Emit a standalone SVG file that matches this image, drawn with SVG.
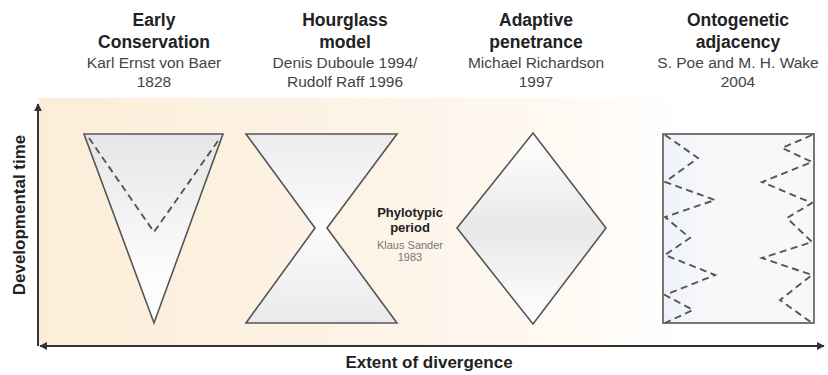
<svg xmlns="http://www.w3.org/2000/svg" width="828" height="375" viewBox="0 0 828 375">
<defs>
<linearGradient id="bg" x1="0" y1="0" x2="1" y2="0">
<stop offset="0" stop-color="#fcedd8"/>
<stop offset="0.45" stop-color="#fdf4e8"/>
<stop offset="0.7" stop-color="#fffaf5"/>
<stop offset="0.82" stop-color="#ffffff"/>
<stop offset="1" stop-color="#ffffff"/>
</linearGradient>
<linearGradient id="gTri" x1="0" y1="0" x2="0" y2="1">
<stop offset="0" stop-color="#e6e6e8"/>
<stop offset="0.7" stop-color="#fbfbfb"/>
<stop offset="1" stop-color="#ffffff"/>
</linearGradient>
<linearGradient id="gHour" x1="0" y1="0" x2="0" y2="1">
<stop offset="0" stop-color="#ececee"/>
<stop offset="0.5" stop-color="#fcfcfd"/>
<stop offset="1" stop-color="#e9e9ec"/>
</linearGradient>
<linearGradient id="gDia" x1="0" y1="0" x2="0" y2="1">
<stop offset="0" stop-color="#ffffff"/>
<stop offset="0.5" stop-color="#e8e8ea"/>
<stop offset="1" stop-color="#ffffff"/>
</linearGradient>
<linearGradient id="gRect" x1="0" y1="0" x2="1" y2="0">
<stop offset="0" stop-color="#eef2f8"/>
<stop offset="0.3" stop-color="#f8f8fa"/>
<stop offset="1" stop-color="#f8f8f8"/>
</linearGradient>
<marker id="arr" viewBox="0 0 10 10" refX="9" refY="5" markerWidth="4" markerHeight="4" orient="auto-start-reverse">
<path d="M0,0 L10,5 L0,10 z" fill="#333"/>
</marker>
</defs>
<style>
.t{font-family:"Liberation Sans",Arial,sans-serif;font-weight:bold;font-size:17.5px;fill:#222;text-anchor:middle}
.s{font-family:"Liberation Sans",Arial,sans-serif;font-size:15.5px;fill:#444;text-anchor:middle}
.shape{stroke:#555;stroke-width:1.6;stroke-linejoin:miter}
.dash{fill:none;stroke:#555;stroke-width:1.9;stroke-dasharray:7,4.5}
.axis{stroke:#333;stroke-width:2;fill:none}
.ax{font-family:"Liberation Sans",Arial,sans-serif;font-weight:bold;font-size:17px;fill:#222;text-anchor:middle}
</style>
<rect x="0" y="0" width="828" height="375" fill="#ffffff"/>
<rect x="39" y="98" width="787" height="247" fill="url(#bg)"/>
<g id="axes">
<line class="axis" x1="38" y1="346" x2="38" y2="104" marker-end="url(#arr)"/>
<line class="axis" x1="40" y1="346" x2="824" y2="346" marker-start="url(#arr)" marker-end="url(#arr)"/>
<text class="ax" transform="translate(25,215) rotate(-90)">Developmental time</text>
<text class="ax" x="429" y="368">Extent of divergence</text>
</g>
<g id="early">
<text class="t" x="154" y="26">Early</text>
<text class="t" x="154" y="48">Conservation</text>
<text class="s" x="154" y="68">Karl Ernst von Baer</text>
<text class="s" x="154" y="87">1828</text>
<polygon class="shape" points="84,134 223,134 154,323" fill="url(#gTri)"/>
<polyline class="dash" points="89,138 154,232 220,138"/>
</g>
<g id="hourglass">
<text class="t" x="345" y="26">Hourglass</text>
<text class="t" x="345" y="48">model</text>
<text class="s" x="345" y="68">Denis Duboule 1994/</text>
<text class="s" x="345" y="87">Rudolf Raff 1996</text>
<polygon class="shape" points="246,134 397,134 327,228 397,323 246,323 315,228" fill="url(#gHour)"/>
</g>
<g id="phylotypic">
<text class="t" x="410" y="217" style="font-size:13px">Phylotypic</text>
<text class="t" x="410" y="232" style="font-size:13px">period</text>
<text class="s" x="410" y="249" style="font-size:11px;fill:#777">Klaus Sander</text>
<text class="s" x="410" y="261" style="font-size:11px;fill:#777">1983</text>
</g>
<g id="adaptive">
<text class="t" x="536" y="26">Adaptive</text>
<text class="t" x="536" y="48">penetrance</text>
<text class="s" x="536" y="68">Michael Richardson</text>
<text class="s" x="536" y="87">1997</text>
<polygon class="shape" points="533,133 606,228 533,324 457,228" fill="url(#gDia)"/>
</g>
<g id="ontogenetic">
<text class="t" x="738" y="26">Ontogenetic</text>
<text class="t" x="738" y="48">adjacency</text>
<text class="s" x="738" y="68">S. Poe and M. H. Wake</text>
<text class="s" x="738" y="87">2004</text>
<rect class="shape" x="663" y="134" width="151" height="189" fill="url(#gRect)"/>
<polyline class="dash" points="665,135 698,158 665,182 715,200 665,217 690,238 665,255 715,275 665,295 693,310 665,323"/>
<polyline class="dash" points="812,135 782,148 812,162 762,182 812,203 787,218 812,242 762,258 812,275 780,300 812,323"/>
</g>
</svg>
